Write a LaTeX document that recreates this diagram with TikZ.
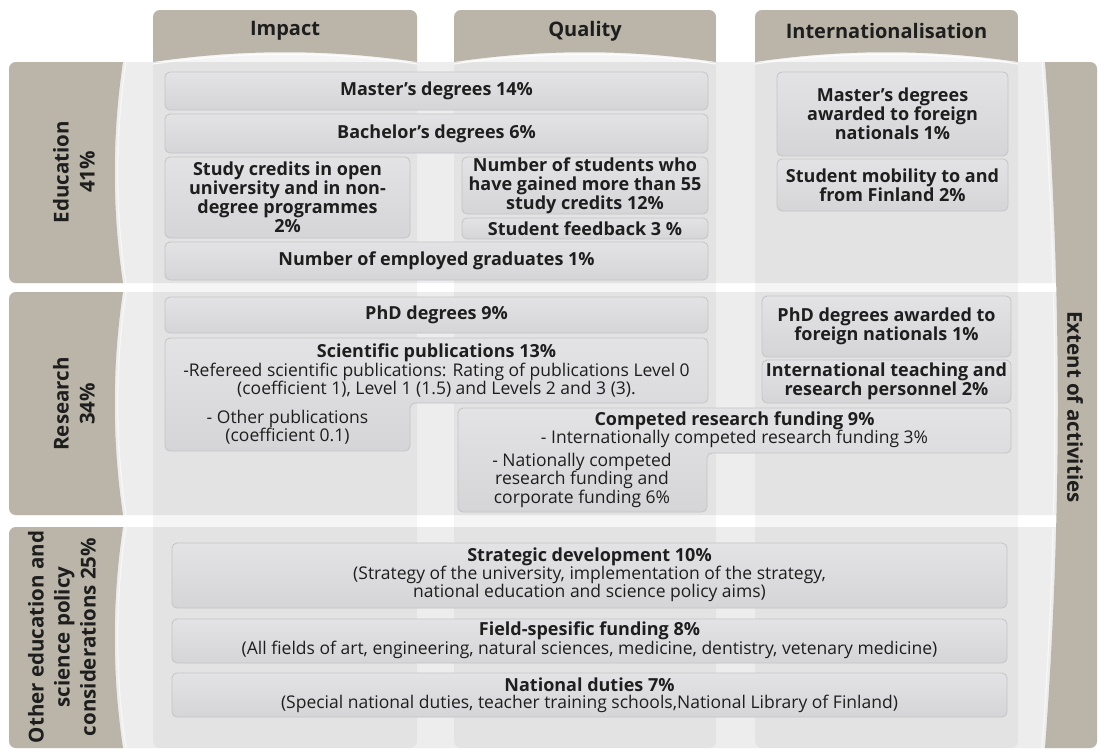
\documentclass[tikz,border=0pt]{standalone}
\usepackage{fontspec}
\setmainfont{Open Sans}
\definecolor{tabc}{HTML}{BAB5A8}
\definecolor{rowc}{HTML}{EDEDED}
\definecolor{boxt}{HTML}{E3E3E5}
\definecolor{boxb}{HTML}{D5D5D7}
\definecolor{boxd}{HTML}{C4C4C6}
\definecolor{txt}{HTML}{1E1E1E}
\tikzset{
  bx/.style={draw=boxd, line width=0.8pt, rounded corners=5pt, top color=boxt, bottom color=boxb, inner sep=0pt, align=center, text=txt, font=\bfseries\fontsize{18}{19}\selectfont},
  shp/.style={draw=boxd, line width=0.8pt, rounded corners=5pt, top color=boxt, bottom color=boxb},
  hdr/.style={text=txt, font=\bfseries\fontsize{20}{22}\selectfont, align=center, inner sep=0pt},
  lab/.style={text=txt, font=\bfseries\fontsize{20.5}{26}\selectfont, align=center, inner sep=0pt},
  reg/.style={text=txt, font=\fontsize{17.5}{18.5}\selectfont, align=center, inner sep=0pt},
  bld/.style={text=txt, font=\bfseries\fontsize{18}{19}\selectfont, align=center, inner sep=0pt},
  colband/.style={fill=black, fill opacity=0.04},
}
\newcommand\boxnode[6]{\node[bx,minimum width={(#4-#2)*1pt},minimum height={(#5-#3)*1pt}] (#1) at ({(#2+#4)/2},{(#3+#5)/2}) {#6};}
\begin{document}
\begin{tikzpicture}[x=1pt,y=-1pt]
\useasboundingbox (0,0) rectangle (1099,750);
\fill[white] (0,0) rectangle (1099,750);
% row bands
\fill[rowc, rounded corners=6pt] (9,62) rectangle (1097,283);
\fill[rowc, rounded corners=6pt] (9,292) rectangle (1097,515);
\fill[rowc, rounded corners=6pt] (9,527) rectangle (1097,748);
% column bands
\foreach \l/\r in {153/417, 454/716, 755/1018}{
  \fill[colband, rounded corners=7pt] (\l,10) rectangle (\r,748);
  \begin{scope}
    \clip (\l,10) -- (\r,10) -- (\r,62) .. controls ({\r-88},49) and ({\l+88},49) .. (\l,62) -- cycle;
    \fill[tabc, rounded corners=7pt] (\l,10) rectangle (\r,90);
  \end{scope}
  \draw[white, line width=1.2pt, opacity=0.8] (\l,64) .. controls ({\l+88},51) and ({\r-88},51) .. (\r,64);
}
% left tabs
\foreach \t/\b in {62/283, 292/515, 527/748}{
  \begin{scope}
    \clip (0,\t) -- (123,\t) .. controls (112,{\t+(\b-\t)/3}) and (112,{\b-(\b-\t)/3}) .. (123,\b) -- (0,\b) -- cycle;
    \fill[tabc, rounded corners=7pt] (9,\t) rectangle (140,\b);
  \end{scope}
  \draw[white, line width=1.2pt, opacity=0.6] (126,\t) .. controls (115,{\t+(\b-\t)/3}) and (115,{\b-(\b-\t)/3}) .. (126,\b);
}
% right tab
\begin{scope}
  \clip (1045,62) .. controls (1062,290) and (1062,520) .. (1045,748) -- (1099,748) -- (1099,62) -- cycle;
  \fill[tabc, rounded corners=7pt] (1000,62) rectangle (1097,748);
\end{scope}
\draw[white, line width=1.2pt, opacity=0.6] (1042,62) .. controls (1059,290) and (1059,520) .. (1042,748);
% headers
\node[hdr] (himp) at (285,31) {Impact};
\node[hdr] (hqua) at (585,31) {Quality};
\node[hdr] (hint) at (886.5,31) {Internationalisation};
\node[lab, rotate=90] (ledu) at (74,172) {Education\\41\%};
\node[lab, rotate=90] (lres) at (74,404) {Research\\34\%};
\node[lab, rotate=90] (loth) at (62,637) {Other education and\\science policy\\considerations 25\%};
\node[lab, rotate=-90] (lext) at (1075,407) {Extent of activities};
% education
\boxnode{mast}{165}{72}{708}{110}{Master’s degrees 14\%}
\boxnode{bach}{165}{114}{708}{153}{Bachelor’s degrees 6\%}
\boxnode{stud}{165}{157}{410}{238}{Study credits in open\\university and in non-\\degree programmes\\2\%}
\boxnode{numb}{462}{157}{708}{214}{Number of students who\\have gained more than 55\\study credits 12\%}
\boxnode{feed}{462}{218}{708}{239}{Student feedback 3 \%}
\boxnode{empl}{165}{242}{708}{280}{Number of employed graduates 1\%}
\boxnode{mfor}{777}{72}{1008}{156}{Master’s degrees\\awarded to foreign\\nationals 1\%}
\boxnode{mobi}{777}{159}{1008}{211}{Student mobility to and\\from Finland 2\%}
% research
\boxnode{phd}{165}{297}{708}{333}{PhD degrees 9\%}
\path[shp] (165,338) -- (708,338) -- (708,403) -- (410,403) -- (410,451) -- (165,451) -- cycle;
\node[bld] (scit) at (436.5,353) {Scientific publications 13\%};
\node[reg] (scir) at (436.5,380) {-Refereed scientific publications: Rating of publications Level 0\\(coefficient 1), Level 1 (1.5) and Levels 2 and 3 (3).};
\node[reg] (scio) at (287.5,427) {- Other publications\\(coefficient 0.1)};
\path[shp] (458,408) -- (1011,408) -- (1011,453) -- (707,453) -- (707,512) -- (458,512) -- cycle;
\node[bld] (comt) at (734.5,421) {Competed research funding 9\%};
\node[reg] (comi) at (734.5,439) {- Internationally competed research funding 3\%};
\node[reg] (comn) at (582,480) {- Nationally competed\\research funding and\\corporate funding 6\%};
\boxnode{phdf}{762}{296}{1011}{357}{PhD degrees awarded to\\foreign nationals 1\%}
\boxnode{intp}{762}{360}{1011}{403}{International teaching and\\research personnel 2\%}
% other
\boxnode{strb}{172}{543}{1007}{608}{}
\node[bld] (strt) at (589.5,557) {Strategic development 10\%};
\node[reg] (strs) at (589.5,584) {(Strategy of the university, implementation of the strategy,\\national education and science policy aims)};
\boxnode{fieb}{172}{619}{1007}{663}{}
\node[bld] (fiet) at (589.5,631) {Field-spesific funding 8\%};
\node[reg] (fies) at (589.5,650) {(All fields of art, engineering, natural sciences, medicine, dentistry, vetenary medicine)};
\boxnode{natb}{172}{673}{1007}{717}{}
\node[bld] (natt) at (589.5,685) {National duties 7\%};
\node[reg] (nats) at (589.5,704) {(Special national duties, teacher training schools,National Library of Finland)};
\end{tikzpicture}
\end{document}
